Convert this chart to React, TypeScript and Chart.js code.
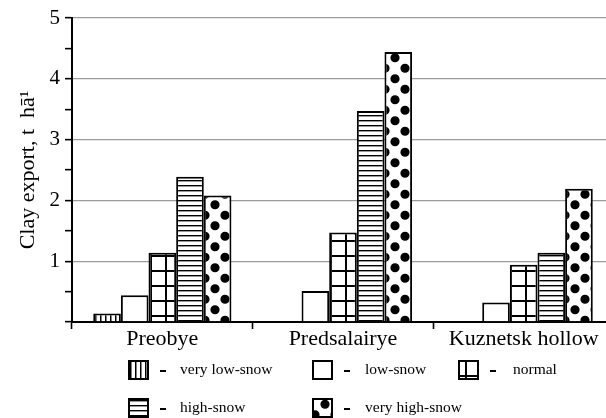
import React, { useEffect, useRef } from 'react';
import { Chart, registerables } from 'chart.js';

Chart.register(...registerables);

// Regions and snow-cover classes
const categories = ['Preobye', 'Predsalairye', 'Kuznetsk hollow'];
const seriesNames = ['very low-snow', 'low-snow', 'normal', 'high-snow', 'very high-snow'];

// Clay export, t/ha, per region
const veryLowSnow = [0.14, null, null];
const lowSnow = [0.44, 0.51, 0.32];
const normalSnow = [1.14, 1.47, 0.94];
const highSnow = [2.39, 3.47, 1.14];
const veryHighSnow = [2.08, 4.44, 2.19];

// Y axis: labelled ticks (half-unit ticks are drawn unlabelled)
const yLabeledTicks = [1, 2, 3, 4, 5];
const yTitle = 'Clay export, t  h\u0101\u00B9';

const SERIF = '"Liberation Serif", "Times New Roman", serif';

type FillKind = 'vertical' | 'plain' | 'grid' | 'horizontal' | 'dots';
const fillKinds: FillKind[] = ['vertical', 'plain', 'grid', 'horizontal', 'dots'];

function makeFill(target: CanvasRenderingContext2D, kind: FillKind): CanvasPattern | string {
  if (kind === 'plain') return '#ffffff';
  const tile = document.createElement('canvas');
  let w = 5;
  let h = 5;
  if (kind === 'grid') { w = 15; h = 15; }
  if (kind === 'dots') { w = 20; h = 21; }
  tile.width = w;
  tile.height = h;
  const t = tile.getContext('2d')!;
  t.fillStyle = '#ffffff';
  t.fillRect(0, 0, w, h);
  t.fillStyle = '#000000';
  if (kind === 'vertical') {
    t.fillRect(0, 0, 1.5, h);
  } else if (kind === 'horizontal') {
    t.fillRect(0, 0, w, 1.4);
  } else if (kind === 'grid') {
    t.fillRect(0, 0, 2, h);
    t.fillRect(0, 0, w, 2);
  } else if (kind === 'dots') {
    t.beginPath();
    t.arc(5, 5.25, 4.6, 0, Math.PI * 2);
    t.arc(15, 15.75, 4.6, 0, Math.PI * 2);
    t.fill();
  }
  return target.createPattern(tile, 'repeat') as CanvasPattern;
}

// Legend drawn below the axis: swatch, dash, class name
const legendPlugin = {
  id: 'snowLegend',
  afterDraw(chart: any) {
    const ctx: CanvasRenderingContext2D = chart.ctx;
    const slots = [
      { x: 128, y: 360, tx: 180 },
      { x: 312, y: 360, tx: 365 },
      { x: 458, y: 360, tx: 513 },
      { x: 128, y: 398, tx: 180 },
      { x: 312, y: 398, tx: 365 },
    ];
    chart.data.datasets.forEach((ds: any, i: number) => {
      const s = slots[i];
      if (!s) return;
      ctx.save();
      ctx.fillStyle = ds.backgroundColor;
      ctx.fillRect(s.x, s.y, 21, 20);
      ctx.lineWidth = 2;
      ctx.strokeStyle = '#000';
      ctx.strokeRect(s.x + 1, s.y + 1, 19, 18);
      ctx.fillStyle = '#000';
      ctx.fillRect(s.x + 32, s.y + 10, 6, 2);
      ctx.font = `15.5px ${SERIF}`;
      ctx.textBaseline = 'middle';
      ctx.textAlign = 'left';
      ctx.fillText(ds.label, s.tx, s.y + 10);
      ctx.restore();
    });
  },
};

export default function App() {
  const canvasRef = useRef<HTMLCanvasElement | null>(null);

  useEffect(() => {
    const canvas = canvasRef.current;
    if (!canvas) return;
    const ctx = canvas.getContext('2d')!;
    const values = [veryLowSnow, lowSnow, normalSnow, highSnow, veryHighSnow];

    const chart = new Chart(canvas, {
      type: 'bar',
      data: {
        labels: categories,
        datasets: values.map((data, i) => ({
          label: seriesNames[i],
          data,
          backgroundColor: makeFill(ctx, fillKinds[i]) as any,
          borderColor: '#000',
          borderWidth: 2,
          categoryPercentage: 0.765,
          barPercentage: 1,
        })),
      },
      options: {
        responsive: false,
        animation: false,
        devicePixelRatio: 1,
        layout: { padding: { top: 18, right: 2, bottom: 0, left: 0 } },
        plugins: {
          legend: { display: false },
          tooltip: { enabled: false },
        },
        scales: {
          x: {
            offset: true,
            afterFit: (scale: any) => { scale.height = 96; },
            grid: {
              offset: true,
              drawOnChartArea: false,
              drawTicks: true,
              tickLength: 7,
              tickColor: '#000',
              tickWidth: 1.6,
            },
            border: { display: true, color: '#000', width: 2 },
            ticks: {
              color: '#000',
              font: { family: SERIF, size: 22 },
              padding: -3,
              maxRotation: 0,
            },
          },
          y: {
            min: 0,
            max: 5,
            afterFit: (scale: any) => { scale.width = 72; },
            grid: {
              color: (c: any) =>
                c.tick && yLabeledTicks.includes(c.tick.value) ? '#9c9c9c' : 'rgba(0,0,0,0)',
              lineWidth: 1.3,
              drawTicks: true,
              tickLength: 7,
              tickColor: '#000',
              tickWidth: 1.6,
            },
            border: { display: true, color: '#000', width: 2 },
            ticks: {
              stepSize: 0.5,
              autoSkip: false,
              color: '#000',
              padding: 5,
              font: { family: SERIF, size: 21 },
              callback: (v: any) => (yLabeledTicks.includes(Number(v)) ? String(v) : ''),
            },
            title: {
              display: true,
              text: yTitle,
              color: '#000',
              font: { family: SERIF, size: 22 },
              padding: { top: 15, bottom: 0 },
            },
          },
        },
      },
      plugins: [legendPlugin],
    });

    return () => chart.destroy();
  }, []);

  return (
    <div
      style={{
        position: 'absolute',
        left: 0,
        top: 0,
        width: 606,
        height: 418,
        overflow: 'hidden',
        background: '#fff',
      }}
    >
      <canvas ref={canvasRef} width={616} height={418} style={{ width: 616, height: 418, display: 'block' }} />
    </div>
  );
}
